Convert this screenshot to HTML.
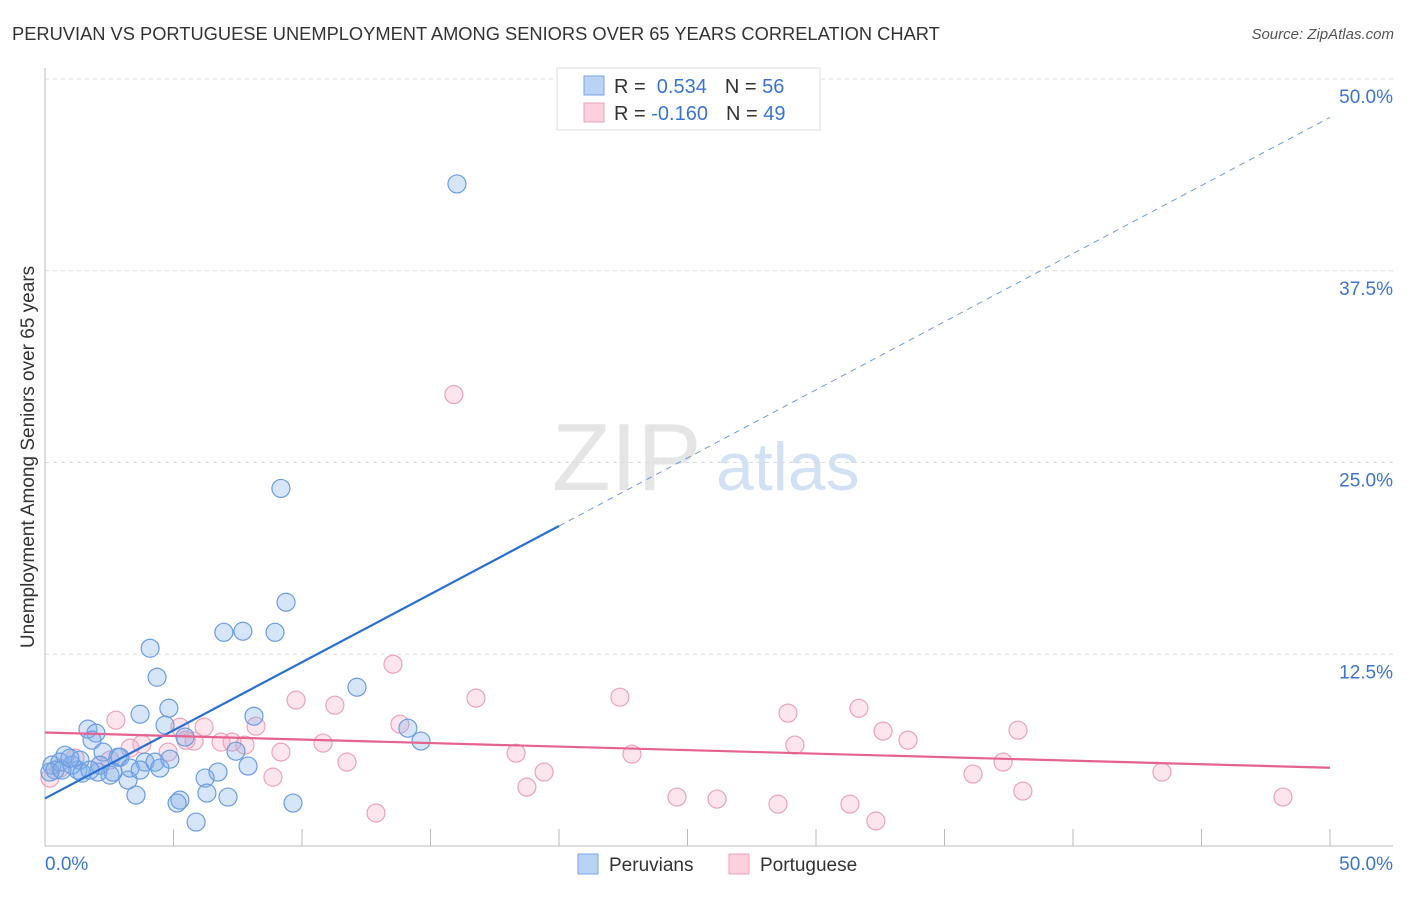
<!DOCTYPE html>
<html><head><meta charset="utf-8"><style>
body{margin:0;background:#fff;font-family:"Liberation Sans",sans-serif}
svg text{font-family:"Liberation Sans",sans-serif}
</style></head><body>
<svg id="c" width="1406" height="892" xmlns="http://www.w3.org/2000/svg">
<text x="12" y="40" font-size="18.3" fill="#333">PERUVIAN VS PORTUGUESE UNEMPLOYMENT AMONG SENIORS OVER 65 YEARS CORRELATION CHART</text>
<text x="1394" y="39" font-size="15" fill="#555" font-style="italic" text-anchor="end">Source: ZipAtlas.com</text>
<g opacity="0.5">
<text x="552" y="490" font-size="96" fill="#ccc" font-family="Liberation Serif">ZIP</text>
<text x="716" y="490" font-size="68" fill="#a9c4ec">atlas</text>
</g>
<g id="grid"></g>
<g id="axes"></g>
<g id="pts"></g>
<g id="lines"></g>
<text transform="translate(34,457) rotate(-90)" font-size="19" fill="#333" text-anchor="middle">Unemployment Among Seniors over 65 years</text>
<g>
<rect x="557" y="68" width="263" height="62" fill="#fff" stroke="#ddd"/>
<rect x="584" y="76" width="20" height="19" fill="#b9d3f5" stroke="#7aa6e6"/>
<rect x="584" y="103" width="20" height="19" fill="#fcd0dc" stroke="#eda2b9"/>
<text x="614" y="93" font-size="20" fill="#333">R = <tspan fill="#3b74d6">&#160;0.534</tspan><tspan dx="18">N = </tspan><tspan fill="#3b74d6">56</tspan></text>
<text x="614" y="120" font-size="20" fill="#333">R = <tspan fill="#3b74d6">-0.160</tspan><tspan dx="18">N = </tspan><tspan fill="#3b74d6">49</tspan></text>
</g>
<g>
<rect x="578" y="854" width="20" height="20" fill="#b9d3f5" stroke="#7aa6e6"/>
<text x="609" y="871" font-size="19" fill="#333">Peruvians</text>
<rect x="729" y="854" width="20" height="20" fill="#fcd0dc" stroke="#eda2b9"/>
<text x="760" y="871" font-size="19" fill="#333">Portuguese</text>
</g>
</svg>
<script>
const yTicks=[12.5,25,37.5,50];
const yTickLabels=["12.5%","25.0%","37.5%","50.0%"];
const xTicks=[0,5,10,15,20,25,30,35,40,45,50];
const peruX=[16.03,9.18,9.38,6.96,7.70,8.95,4.09,4.36,12.14,4.82,3.70,8.13,1.67,1.98,4.67,5.45,14.12,14.63,1.83,0.78,2.26,2.84,2.92,3.89,4.28,4.47,4.86,7.43,7.90,6.73,6.23,3.23,2.53,2.06,1.28,3.31,0.27,0.39,0.58,1.05,3.54,5.25,5.14,6.30,7.12,5.88,9.65,2.65,0.19,0.66,1.36,1.44,3.70,2.14,1.75,0.97];
const peruY=[43.16,23.31,15.89,13.93,14.0,13.93,12.89,11.0,10.35,8.98,8.59,8.46,7.62,7.36,7.88,7.10,7.68,6.84,6.90,5.92,6.12,5.79,5.79,5.47,5.47,5.08,5.66,6.18,5.21,4.82,4.43,4.30,4.62,4.82,4.95,5.08,5.27,4.95,5.47,5.27,3.32,2.99,2.80,3.45,3.19,1.56,2.80,4.82,4.82,4.95,5.60,4.75,4.95,5.27,4.95,5.73];
const portX=[15.91,13.54,9.77,16.77,11.28,2.76,5.25,6.19,5.80,6.85,7.28,7.78,8.21,3.31,3.77,4.79,5.49,9.18,10.82,11.75,13.81,18.33,19.42,18.75,12.88,8.87,22.37,22.84,24.59,26.15,28.52,28.91,29.18,31.32,31.67,32.33,32.61,33.58,36.11,37.28,37.86,38.05,43.46,48.17,0.19,0.58,1.17,2.14,2.53];
const portY=[29.43,11.85,9.51,9.64,9.18,8.20,7.75,7.75,6.84,6.77,6.77,6.58,7.81,6.38,6.64,6.12,6.90,6.12,6.71,5.47,7.94,6.05,4.82,3.84,2.15,4.49,9.70,5.99,3.19,3.06,2.73,8.66,6.58,2.73,8.98,1.63,7.49,6.90,4.69,5.47,7.55,3.58,4.82,3.19,4.43,5.08,5.73,5.27,5.60];
const peruLine=[3.1,47.5];
const portLine=[7.4,5.1];
const NS="http://www.w3.org/2000/svg";
const X0=45,X1=1330,Y0=846,Y1=79;
const sx=v=>X0+(X1-X0)*v/50, sy=v=>Y0-(Y0-Y1)*v/50;
function mk(t,a,p){const e=document.createElementNS(NS,t);for(const k in a)e.setAttribute(k,a[k]);p.appendChild(e);return e;}
const grid=document.getElementById('grid'),axes=document.getElementById('axes'),pts=document.getElementById('pts'),lines=document.getElementById('lines');
yTicks.forEach((v,i)=>{
 const g=mk('line',{x1:X0,x2:1393,y1:sy(v),y2:sy(v),stroke:'#ddd','stroke-dasharray':'4,4'},grid);
 
 
 const t=mk('text',{x:1393,y:sy(v)+24,'font-size':19,fill:'#3b74d6','text-anchor':'end'},grid);
 t.textContent=yTickLabels[i];
 
 
});
const la=mk('line',{x1:X0,x2:X0,y1:68,y2:Y0,stroke:'#bbb'},axes);


const lb=mk('line',{x1:X0,x2:1393,y1:Y0,y2:Y0,stroke:'#bbb'},axes);


xTicks.forEach(v=>{
 const t=mk('line',{x1:sx(v),x2:sx(v),y1:Y0-17,y2:Y0,stroke:'#bbb'},axes);
 
 
});
const xl=mk('text',{x:45,y:870,'font-size':19,fill:'#3b74d6'},axes);xl.textContent='0.0%';


const xr=mk('text',{x:1393,y:870,'font-size':19,fill:'#3b74d6','text-anchor':'end'},axes);xr.textContent='50.0%';


portX.forEach((x,i)=>{
 const c=mk('circle',{cx:sx(x),cy:sy(portY[i]),r:9,fill:'rgba(246,170,195,0.3)',stroke:'#eba3bb','stroke-width':1.2},pts);
 
 
});
peruX.forEach((x,i)=>{
 const c=mk('circle',{cx:sx(x),cy:sy(peruY[i]),r:9,fill:'rgba(130,175,235,0.33)',stroke:'#6b9de2','stroke-width':1.2},pts);
 
 
});
const bx=20.0, by=peruLine[0]+(peruLine[1]-peruLine[0])*bx/50;
const b1=mk('line',{x1:sx(0),y1:sy(peruLine[0]),x2:sx(bx),y2:sy(by),stroke:'#2a6fd6','stroke-width':2.2},lines);


const b2=mk('line',{x1:sx(bx),y1:sy(by),x2:sx(50),y2:sy(peruLine[1]),stroke:'#6b9de2','stroke-width':1,'stroke-dasharray':'6,5'},lines);


const p1=mk('line',{x1:sx(0),y1:sy(portLine[0]),x2:sx(50),y2:sy(portLine[1]),stroke:'#e6628f','stroke-width':2.2},lines);


</script>
</body></html>
